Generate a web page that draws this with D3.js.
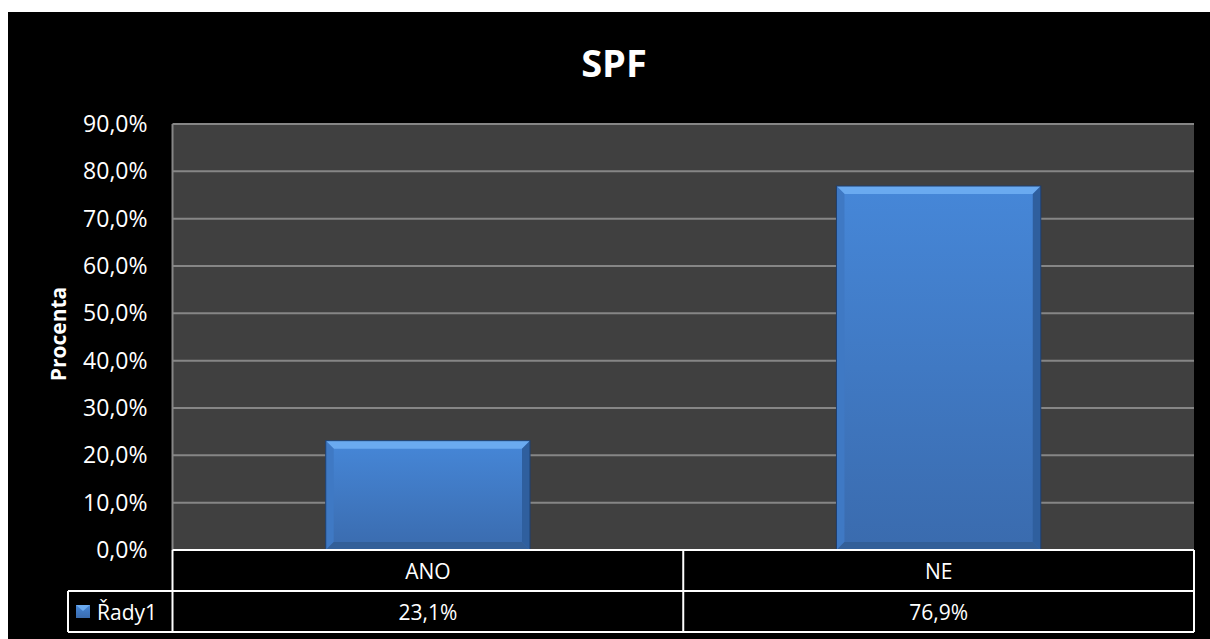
<!DOCTYPE html>
<html>
<head>
<meta charset="utf-8">
<script src="https://cdn.jsdelivr.net/npm/d3@7"></script>
<style>
  body { margin: 0; background: #fff; }
  svg { display: block; }
  text { font-family: "Open Sans", Lato, sans-serif; fill: #fff; }
</style>
</head>
<body>
<div id="chart"></div>
<script>
// data
const categories = ["ANO", "NE"];
const values = [23.1, 76.9];
const tickValues = [0, 10, 20, 30, 40, 50, 60, 70, 80, 90];
const seriesName = "Řady1";
const chartTitle = "SPF";
const yTitle = "Procenta";

const W = 1210, H = 639;
const plot = { left: 172.5, right: 1194, top: 124, bottom: 550 };
const rowH = 41;

const svg = d3.select("#chart").append("svg")
    .attr("width", W)
    .attr("height", H);

// black chart background
svg.append("rect")
    .attr("x", 8).attr("y", 12)
    .attr("width", W - 8).attr("height", H - 12)
    .attr("fill", "#000");

// scales
const x = d3.scaleBand()
    .domain(categories)
    .range([plot.left, plot.right])
    .paddingInner(0)
    .paddingOuter(0);

const y = d3.scaleLinear()
    .domain([0, 90])
    .range([plot.bottom, plot.top]);

// plot area
svg.append("rect")
    .attr("x", plot.left).attr("y", plot.top)
    .attr("width", plot.right - plot.left)
    .attr("height", plot.bottom - plot.top)
    .attr("fill", "#404040");

// gridlines
svg.append("g")
    .selectAll("line")
    .data(tickValues.filter(d => d > 0))
    .enter()
    .append("line")
    .attr("x1", plot.left).attr("x2", plot.right)
    .attr("y1", d => y(d)).attr("y2", d => y(d))
    .attr("stroke", "#868686")
    .attr("stroke-width", 2);

svg.append("line")
    .attr("x1", plot.left).attr("x2", plot.left)
    .attr("y1", plot.top).attr("y2", plot.bottom)
    .attr("stroke", "#868686").attr("stroke-width", 2);

// y axis labels
const yAxis = d3.axisLeft(y)
    .tickValues(tickValues)
    .tickSize(0)
    .tickPadding(25)
    .tickFormat(d => d3.format(".1f")(d).replace(".", ",") + "%");

const yg = svg.append("g")
    .attr("transform", "translate(" + plot.left + ",0)")
    .call(yAxis);
yg.select(".domain").remove();
yg.selectAll("text")
    .attr("fill", "#fff")
    .style("font-size", "23px")
    .style("font-family", "'Open Sans', sans-serif");

// gradient for bars
const defs = svg.append("defs");
const grad = defs.append("linearGradient")
    .attr("id", "barGrad")
    .attr("x1", 0).attr("y1", 0).attr("x2", 0).attr("y2", 1);
grad.append("stop").attr("offset", "0%").attr("stop-color", "#4687d8");
grad.append("stop").attr("offset", "100%").attr("stop-color", "#3a6bae");

// bars with bevel
const barW = x.bandwidth() * 0.4;
const bev = 8;
const bars = svg.append("g")
    .selectAll("g")
    .data(categories.map((c, i) => ({ cat: c, val: values[i] })))
    .enter()
    .append("g");

bars.append("rect")
    .attr("x", d => x(d.cat) + (x.bandwidth() - barW) / 2)
    .attr("y", d => y(d.val))
    .attr("width", barW)
    .attr("height", d => y(0) - y(d.val))
    .attr("fill", "url(#barGrad)");

function bevelPts(d, side) {
    const x0 = x(d.cat) + (x.bandwidth() - barW) / 2, x1 = x0 + barW;
    const y0 = y(d.val), y1 = y(0);
    if (side === "top") return [[x0, y0], [x1, y0], [x1 - bev, y0 + bev], [x0 + bev, y0 + bev]];
    if (side === "left") return [[x0, y0], [x0 + bev, y0 + bev], [x0 + bev, y1 - bev], [x0, y1]];
    if (side === "right") return [[x1, y0], [x1 - bev, y0 + bev], [x1 - bev, y1 - bev], [x1, y1]];
    return [[x0, y1], [x0 + bev, y1 - bev], [x1 - bev, y1 - bev], [x1, y1]];
}
const bevelFill = { top: "#6aaaf0", left: "#3f79c4", right: "#2f5f9e", bottom: "#335f98" };
["top", "left", "right", "bottom"].forEach(side => {
    bars.append("polygon")
        .attr("points", d => bevelPts(d, side).map(p => p.join(",")).join(" "))
        .attr("fill", bevelFill[side]);
});
bars.append("rect")
    .attr("x", d => x(d.cat) + (x.bandwidth() - barW) / 2)
    .attr("y", d => y(d.val))
    .attr("width", barW)
    .attr("height", d => y(0) - y(d.val))
    .attr("fill", "none")
    .attr("stroke", "#1f3f6e")
    .attr("stroke-width", 1);

// data table
const tbl = svg.append("g").attr("stroke", "#fff").attr("stroke-width", 2);
const r1 = plot.bottom, r2 = plot.bottom + rowH, r3 = plot.bottom + 2 * rowH;
const legendLeft = 68;
tbl.append("line").attr("x1", plot.left).attr("x2", plot.right).attr("y1", r1).attr("y2", r1);
tbl.append("line").attr("x1", legendLeft).attr("x2", plot.right).attr("y1", r2).attr("y2", r2);
tbl.append("line").attr("x1", legendLeft).attr("x2", plot.right).attr("y1", r3).attr("y2", r3);
tbl.append("line").attr("x1", legendLeft).attr("x2", legendLeft).attr("y1", r2).attr("y2", r3);
const vlines = [plot.left].concat(categories.map(c => x(c) + x.bandwidth()));
tbl.selectAll(".v")
    .data(vlines)
    .enter()
    .append("line")
    .attr("x1", d => d).attr("x2", d => d)
    .attr("y1", r1).attr("y2", r3);

// category labels
svg.append("g")
    .selectAll("text")
    .data(categories)
    .enter()
    .append("text")
    .attr("x", d => x(d) + x.bandwidth() / 2)
    .attr("y", r1 + rowH / 2 + 8)
    .attr("text-anchor", "middle")
    .style("font-size", "21px")
    .text(d => d);

// value labels
svg.append("g")
    .selectAll("text")
    .data(values)
    .enter()
    .append("text")
    .attr("x", (d, i) => x(categories[i]) + x.bandwidth() / 2)
    .attr("y", r2 + rowH / 2 + 8)
    .attr("text-anchor", "middle")
    .style("font-size", "21px")
    .text(d => d3.format(".1f")(d).replace(".", ",") + "%");

// legend key
svg.append("rect")
    .attr("x", 76).attr("y", 605)
    .attr("width", 14).attr("height", 13)
    .attr("fill", "url(#barGrad)");
svg.append("polygon")
    .attr("points", "76,605 90,605 83,611")
    .attr("fill", "#6aaaf0");
svg.append("text")
    .attr("x", 97).attr("y", r2 + rowH / 2 + 8)
    .style("font-size", "21px")
    .text(seriesName);

// titles
svg.append("text")
    .attr("x", 614).attr("y", 77)
    .attr("text-anchor", "middle")
    .style("font-size", "38px")
    .style("font-weight", "bold")
    .text(chartTitle);

svg.append("text")
    .attr("transform", "translate(66,334) rotate(-90)")
    .attr("text-anchor", "middle")
    .style("font-size", "21px")
    .style("font-weight", "bold")
    .text(yTitle);
</script>
</body>
</html>
